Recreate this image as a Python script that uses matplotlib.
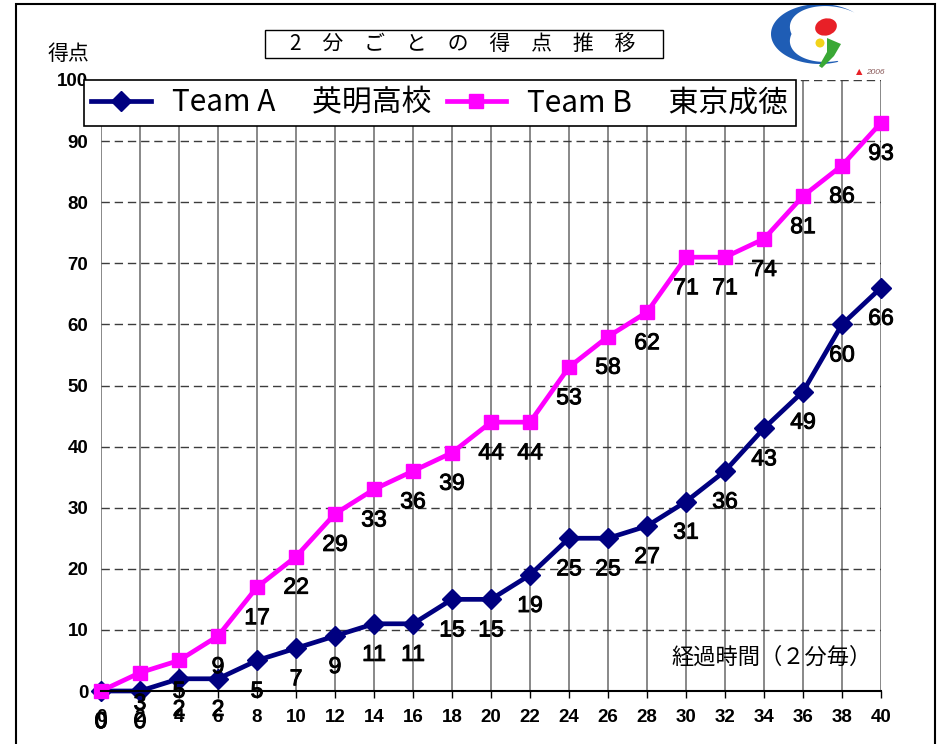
import matplotlib
matplotlib.use('Agg')
import matplotlib.pyplot as plt
import matplotlib.patheffects as pe
from matplotlib.patches import Rectangle, Ellipse, Polygon
import numpy as np

# ---- data ----
minutes = list(range(0, 41, 2))
team_a = [0, 0, 2, 2, 5, 7, 9, 11, 11, 15, 15, 19, 25, 25, 27, 31, 36, 43, 49, 60, 66]
team_b = [0, 3, 5, 9, 17, 22, 29, 33, 36, 39, 44, 44, 53, 58, 62, 71, 71, 74, 81, 86, 93]
label_a = "Team A　 英明高校"
label_b = "Team B　 東京成徳"
title_text = "2　分　ご　と　の　得　点　推　移"
ylabel_text = "得点"
xlabel_text = "経過時間（２分毎）"
yticks = list(range(0, 101, 10))

plt.rcParams['font.family'] = ['Noto Sans CJK JP', 'DejaVu Sans']
num_font = ['Liberation Sans', 'DejaVu Sans']

W, H = 942, 744
fig = plt.figure(figsize=(W / 100, H / 100), dpi=100)
fig.patch.set_facecolor('white')

def fx(px):
    return px / W

def fy(py):
    return 1 - py / H

ax = fig.add_axes([fx(101), fy(691), fx(881) - fx(101), fy(80) - fy(691)])
ax.set_xlim(0, 40)
ax.set_ylim(0, 100)
ax.set_xticks(minutes)
ax.set_yticks(yticks)
ax.set_xticklabels([str(m) for m in minutes], fontfamily=num_font, fontweight='bold', fontsize=13.5)
ax.set_yticklabels([str(v) for v in yticks], fontfamily=num_font, fontweight='bold', fontsize=13.5)
ax.tick_params(axis='x', direction='out', length=5, width=1, pad=8, color='black')
ax.tick_params(axis='y', length=0, pad=9)
for s in ['left', 'right', 'top']:
    ax.spines[s].set_visible(False)
ax.spines['bottom'].set_linewidth(1.5)
ax.spines['bottom'].set_zorder(5)

for m in minutes:
    ax.axvline(m, color='#7f7f7f', lw=1.3, zorder=1)
for v in yticks[1:]:
    ax.axhline(v, color='#3c3c3c', lw=1, dashes=(6, 3.5), zorder=1)

la, = ax.plot(minutes, team_a, color='#000080', lw=3.4, marker='D', ms=10.5,
              clip_on=False, zorder=3)
lb, = ax.plot(minutes, team_b, color='#FF00FF', lw=3.4, marker='s', ms=10,
              clip_on=False, zorder=3)

thick = [pe.withStroke(linewidth=0.7, foreground='black')]
for xs, vals in ((minutes, team_a), (minutes, team_b)):
    for x, v in zip(xs, vals):
        ax.annotate(str(v), (x, v), xytext=(0, -22), textcoords='offset points',
                    ha='center', va='center', fontsize=16.5, fontfamily=num_font,
                    color='black', zorder=6, annotation_clip=False,
                    path_effects=thick)

leg = ax.legend([la, lb], [label_a, label_b], ncol=2, loc='upper left',
                bbox_to_anchor=(fx(84), fy(80)), bbox_transform=fig.transFigure,
                frameon=True, fancybox=False, edgecolor='black', framealpha=1,
                fontsize=21.5, handlelength=2.0, handletextpad=0.7, columnspacing=0.5,
                borderpad=0.25, borderaxespad=0)
leg.get_frame().set_linewidth(1.2)
leg.set_zorder(10)

# title box
fig.add_artist(Rectangle((fx(265), fy(58)), fx(663) - fx(265), fy(30) - fy(58),
                         transform=fig.transFigure, fc='white', ec='black', lw=1))
fig.text(fx(463), fy(44), title_text, ha='center', va='center', fontsize=15)
fig.text(fx(68), fy(54), ylabel_text, ha='center', va='center', fontsize=15)
fig.text(fx(671), fy(657), xlabel_text, ha='left', va='center', fontsize=16)

# outer frame
fig.add_artist(Rectangle((fx(16), -0.1), fx(935) - fx(16), fy(4) + 0.1,
                         transform=fig.transFigure, fill=False, lw=1.5, ec='black'))

# logo (decorative)
lax = fig.add_axes([fx(768), fy(80), fx(887) - fx(768), fy(2) - fy(80)])
lax.set_xlim(768, 887)
lax.set_ylim(80, 2)
lax.axis('off')
lax.add_patch(Rectangle((768, 2), 119, 76, fc='white', ec='none'))
th = np.linspace(np.radians(45), np.radians(292), 140)
cx, cy, rx, ry = 820, 34, 49, 30
ox = cx + rx * np.cos(th)
oy = cy - ry * np.sin(th)
wgt = np.clip(1 - np.abs(th - np.pi) / np.radians(135), 0, 1) ** 1.2
ix = ox + (cx - ox) * 0.42 * wgt
iy = oy + (cy - oy) * 0.28 * wgt
pts = np.concatenate([np.column_stack([ox, oy]), np.column_stack([ix, iy])[::-1]])
lax.add_patch(Polygon(pts, closed=True, fc='#1f5db5', ec='none'))
lax.add_patch(Ellipse((826, 27), 22, 17, angle=-15, fc='#e82027', ec='none'))
lax.add_patch(Ellipse((820, 43), 9, 9, fc='#f2d31a', ec='none'))
lax.add_patch(Polygon([(827, 38), (841, 44), (834, 56), (822, 68), (819, 66), (827, 52)],
                      closed=True, fc='#3aa835', ec='none'))
lax.text(859, 72, '▲', color='#e82027', fontsize=6, ha='center', va='center',
         fontfamily=['DejaVu Sans'])
lax.text(875, 72, '2006', color='#8a5a5a', fontsize=6, ha='center', va='center',
         fontstyle='italic', fontfamily=num_font)

fig.savefig('out.png', dpi=100, facecolor='white')
